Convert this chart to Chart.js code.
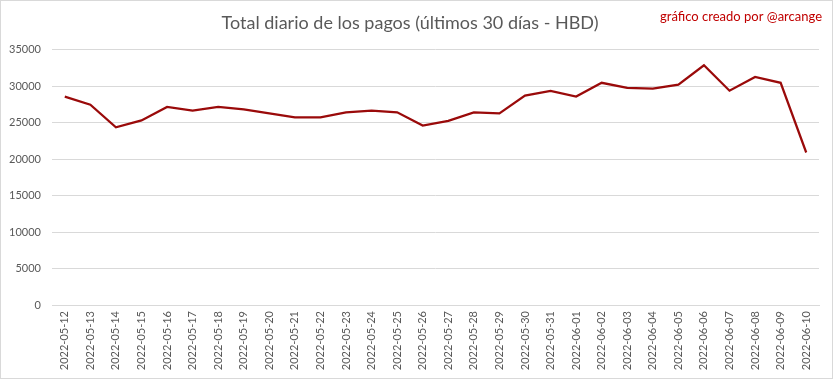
<!DOCTYPE html>
<html>
<head>
<meta charset="utf-8">
<script src="https://cdn.jsdelivr.net/npm/chart.js@4/dist/chart.umd.min.js"></script>
<style>
  html,body{margin:0;padding:0;background:#fff;}
  #wrap{position:absolute;left:0;top:0;width:831px;height:377px;border:1px solid #d9d9d9;}
  canvas{display:block;}
</style>
</head>
<body>
<div id="wrap"><canvas id="c" width="831" height="377"></canvas></div>
<script>
const categories = ["2022-05-12","2022-05-13","2022-05-14","2022-05-15","2022-05-16","2022-05-17","2022-05-18","2022-05-19","2022-05-20","2022-05-21","2022-05-22","2022-05-23","2022-05-24","2022-05-25","2022-05-26","2022-05-27","2022-05-28","2022-05-29","2022-05-30","2022-05-31","2022-06-01","2022-06-02","2022-06-03","2022-06-04","2022-06-05","2022-06-06","2022-06-07","2022-06-08","2022-06-09","2022-06-10"];
const payments = [28550,27450,24350,25300,27150,26650,27150,26800,26250,25700,25700,26400,26620,26400,24600,25230,26400,26250,28700,29350,28560,30450,29750,29650,30200,32850,29370,31250,30450,20900];
const yTicks = [0,5000,10000,15000,20000,25000,30000,35000];
const titleText = "Total diario de los pagos (últimos 30 días - HBD)";
const creditText = "gráfico creado por @arcange";

const creditPlugin = {
  id: 'credit',
  afterDraw(chart) {
    const ctx = chart.ctx;
    ctx.save();
    ctx.font = '13px Lato, "Open Sans", sans-serif';
    ctx.fillStyle = '#C00000';
    ctx.textAlign = 'right';
    ctx.textBaseline = 'middle';
    ctx.fillText(creditText, 821, 16);
    ctx.restore();
  }
};

new Chart(document.getElementById('c'), {
  type: 'line',
  data: {
    labels: categories,
    datasets: [{
      data: payments,
      borderColor: '#9A0A0A',
      borderWidth: 2.25,
      pointRadius: 0,
      tension: 0,
      fill: false
    }]
  },
  options: {
    responsive: false,
    animation: false,
    layout: { padding: { left: 0, right: 13, top: 0, bottom: 0 } },
    plugins: {
      legend: { display: false },
      tooltip: { enabled: false },
      title: {
        display: true,
        text: titleText,
        color: '#595959',
        font: { family: 'Lato, "Open Sans", sans-serif', size: 18, weight: 'normal' },
        padding: { top: 11, bottom: 16 }
      }
    },
    scales: {
      x: {
        offset: true,
        grid: { display: false, drawTicks: false },
        border: { display: true, color: '#d9d9d9', width: 1 },
        ticks: {
          minRotation: 90, maxRotation: 90, autoSkip: false,
          color: '#595959',
          font: { family: 'Lato, "Open Sans", sans-serif', size: 11 },
          padding: 6
        },
        afterFit(scale) { scale.height = 73; }
      },
      y: {
        min: 0, max: 35000,
        afterBuildTicks(scale) { scale.ticks = yTicks.map(v => ({ value: v })); },
        grid: { color: '#d9d9d9', drawTicks: false, lineWidth: 1 },
        border: { display: false },
        ticks: {
          color: '#595959',
          font: { family: 'Lato, "Open Sans", sans-serif', size: 11 },
          padding: 11,
          callback: (v) => String(v)
        },
        afterFit(scale) { scale.width = 51; }
      }
    }
  },
  plugins: [creditPlugin]
});
</script>
</body>
</html>
